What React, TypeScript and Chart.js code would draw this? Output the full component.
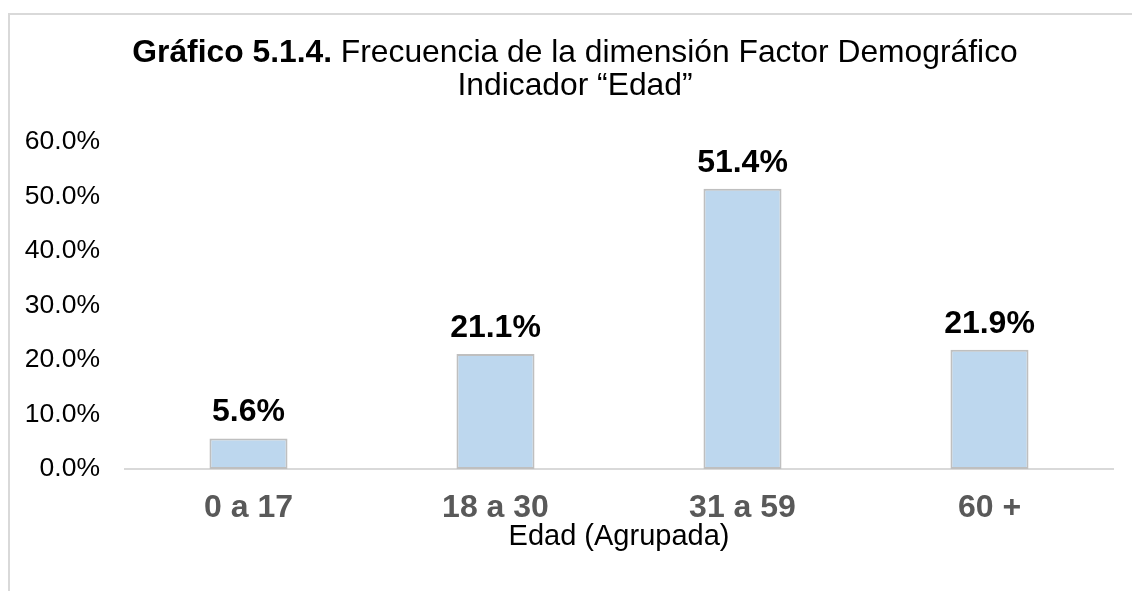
import React, { useEffect, useRef } from "react";
import { Chart, registerables } from "chart.js";

Chart.register(...registerables);

const categories = ["0 a 17", "18 a 30", "31 a 59", "60 +"];
const values = [5.6, 21.1, 51.4, 21.9];
const yTicks = [0, 10, 20, 30, 40, 50, 60];
const titleBold = "Gráfico 5.1.4.";
const titleRest = " Frecuencia de la dimensión Factor Demográfico";
const titleLine2 = "Indicador “Edad”";
const xAxisTitle = "Edad (Agrupada)";

const FONT = '"Liberation Sans", Arial, sans-serif';

const titlePlugin = {
  id: "mixedTitle",
  afterDraw(chart: any) {
    const ctx = chart.ctx;
    ctx.save();
    ctx.fillStyle = "#000";
    ctx.textBaseline = "middle";
    const cx = 575;
    const bold = `bold 31.8px ${FONT}`;
    const normal = `31.8px ${FONT}`;
    ctx.font = bold;
    const wb = ctx.measureText(titleBold).width;
    ctx.font = normal;
    const wr = ctx.measureText(titleRest).width;
    const x0 = cx - 10 - (wb + wr) / 2;
    ctx.textAlign = "left";
    ctx.font = bold;
    ctx.fillText(titleBold, x0, 38);
    ctx.font = normal;
    ctx.fillText(titleRest, x0 + wb, 38);
    ctx.textAlign = "center";
    ctx.fillText(titleLine2, cx - 10, 71);
    ctx.restore();
  },
};

const labelPlugin = {
  id: "barLabels",
  afterDatasetsDraw(chart: any) {
    const ctx = chart.ctx;
    const meta = chart.getDatasetMeta(0);
    ctx.save();
    ctx.fillStyle = "#000";
    ctx.font = `bold 32px ${FONT}`;
    ctx.textAlign = "center";
    ctx.textBaseline = "alphabetic";
    meta.data.forEach((bar: any, i: number) => {
      ctx.fillText(values[i].toFixed(1) + "%", bar.x, bar.y - 17);
    });
    ctx.restore();
  },
};

export default function App() {
  const ref = useRef<HTMLCanvasElement | null>(null);

  useEffect(() => {
    if (!ref.current) return;
    const chart = new Chart(ref.current, {
      type: "bar",
      data: {
        labels: categories,
        datasets: [
          {
            data: values,
            backgroundColor: "#BDD7EE",
            borderColor: "#BFBFBF",
            borderWidth: 2,
            borderSkipped: false,
            barPercentage: 0.316,
            categoryPercentage: 1,
          },
        ],
      },
      options: {
        animation: false,
        responsive: false,
        devicePixelRatio: 1,
        layout: { padding: { top: 127, right: 19, left: 0, bottom: 0 } },
        plugins: {
          legend: { display: false },
          tooltip: { enabled: false },
          title: { display: false },
        },
        scales: {
          x: {
            grid: { display: false, drawTicks: false },
            border: { display: true, color: "#D9D9D9", width: 2 },
            ticks: {
              color: "#595959",
              font: { family: FONT, size: 32, weight: "bold" },
              padding: 20,
            },
            title: {
              display: true,
              text: xAxisTitle,
              color: "#000",
              font: { family: FONT, size: 29 },
              padding: { top: 0, bottom: 37 },
            },
            afterFit: (s: any) => {
              s.height = 122;
            },
          },
          y: {
            min: 0,
            max: 60,
            afterBuildTicks: (scale: any) => {
              scale.ticks = yTicks.map((v) => ({ value: v }));
            },
            grid: { display: false, drawTicks: false },
            border: { display: false },
            ticks: {
              color: "#000",
              font: { family: FONT, size: 26.5 },
              padding: 25,
              callback: (v: any) => Number(v).toFixed(1) + "%",
            },
            afterFit: (s: any) => {
              s.width = 115;
            },
          },
        },
      },
      plugins: [titlePlugin, labelPlugin],
    } as any);
    return () => chart.destroy();
  }, []);

  return (
    <div style={{ position: "fixed", inset: 0, overflow: "hidden", background: "#fff" }}>
      <div
        style={{
          position: "absolute",
          left: 8,
          top: 13,
          width: 1200,
          height: 700,
          border: "2px solid #D9D9D9",
          boxSizing: "border-box",
        }}
      >
        <canvas
          ref={ref}
          width={1122}
          height={576}
          style={{ display: "block", width: 1122, height: 576 }}
        />
      </div>
    </div>
  );
}
